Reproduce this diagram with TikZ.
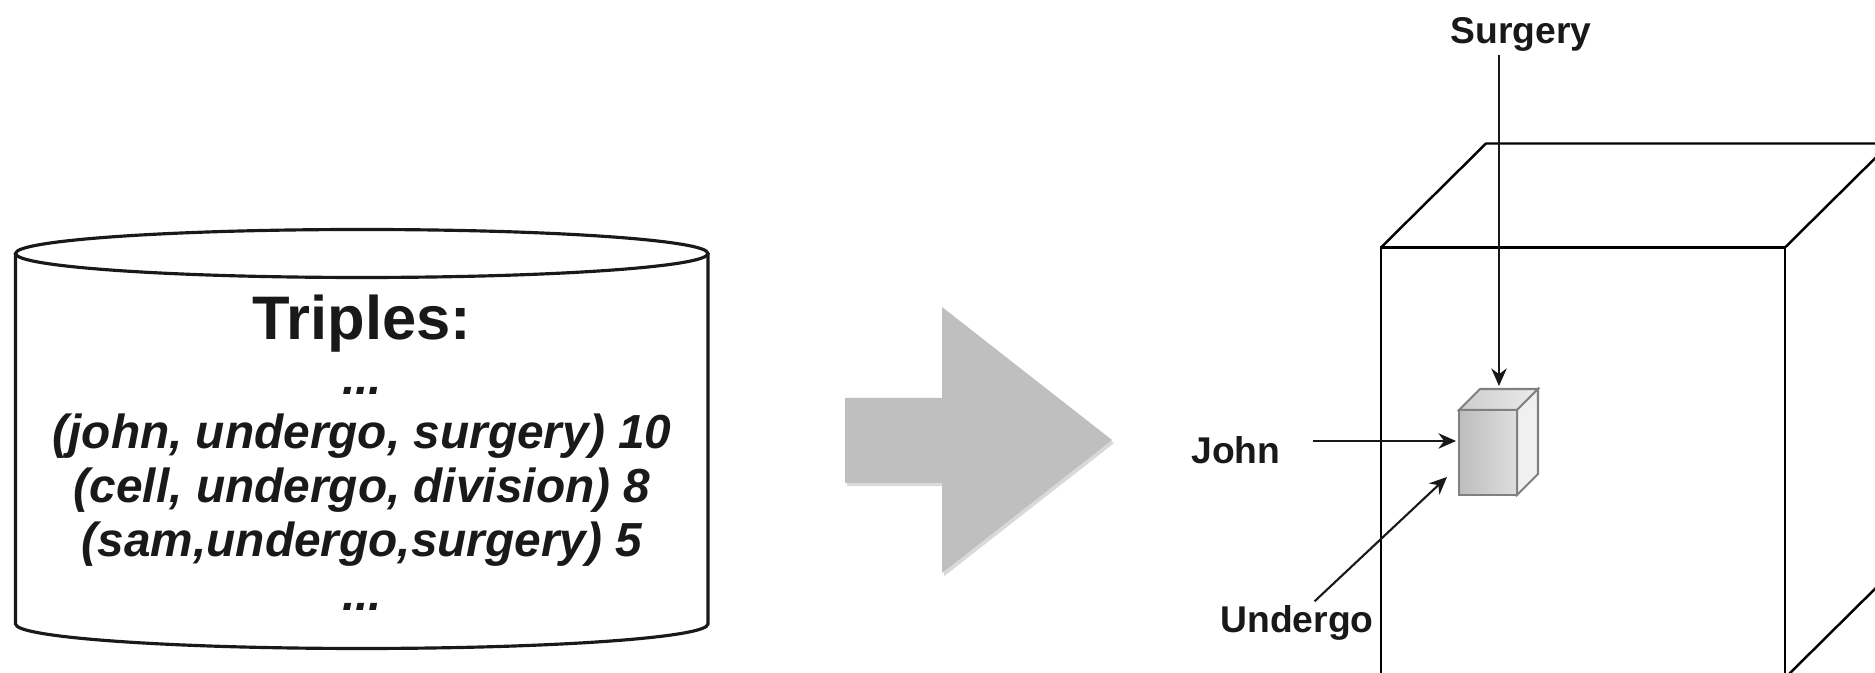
\documentclass[tikz,border=0pt]{standalone}
\usepackage{fontspec}
\setmainfont{Liberation Sans}
\usetikzlibrary{arrows.meta,calc,shadows}

\begin{document}
\begin{tikzpicture}[>={Stealth[length=5pt, width=4.4pt]},
    tag/.style={font=\fontsize{10.6}{12}\selectfont\bfseries, text=black!90, inner sep=1pt},
    pointer/.style={->, line width=0.6pt, black!90}]
    \useasboundingbox (0, 0) rectangle (18.75, 6.73);
    \clip (0, 0) rectangle (18.75, 6.73);

    % Cylinder of triples
    \draw [line width=0.9pt, black!90] (0.155, 4.195) -- (0.155, 0.49)
        arc [start angle=180, end angle=360, x radius=3.4625, y radius=0.245]
        -- (7.08, 4.195);
    \draw [line width=0.9pt, black!90] (3.6175, 4.195) ellipse [x radius=3.4625, y radius=0.24];
    \node (triples) [align=center, text=black!90, font=\fontsize{13.6}{15.4}\selectfont\bfseries\itshape] at (3.62, 2.2)
        {{\upshape\fontsize{17.5}{15.4}\selectfont Triples:}\\ ...\\ (john, undergo, surgery) 10\\ (cell, undergo, division) 8\\ (sam,undergo,surgery) 5\\ ...};

    % Conversion arrow
    \path [fill=black!25, drop shadow={shadow xshift=0.6pt, shadow yshift=-0.9pt, opacity=0.3}]
        (8.45, 2.75) -- (9.42, 2.75) -- (9.42, 3.66) -- (11.12, 2.33) -- (9.42, 1.00)
        -- (9.42, 1.90) -- (8.45, 1.90) -- cycle;

    % Vector space cube
    \draw [line width=0.7pt] (13.81, -0.05) -- (13.81, 4.255) -- (17.85, 4.255) -- (17.85, -0.05);
    \draw [line width=0.7pt] (13.81, 4.255) -- ++(1.05, 1.04) -- ++(5, 0);
    \draw [line width=0.7pt] (17.85, 4.255) -- ++(1.05, 1.04);
    \draw [line width=0.7pt] (17.85, -0.05) -- ++(1.05, 1.04);

    % Entry cell
    \draw [draw=black!50, line width=0.6pt, left color=black!20, right color=black!8]
        (14.59, 2.63) -- (14.80, 2.84) -- (15.38, 2.84) -- (15.17, 2.63) -- cycle;
    \draw [draw=black!50, line width=0.6pt, fill=black!6]
        (15.17, 1.78) -- (15.38, 1.99) -- (15.38, 2.84) -- (15.17, 2.63) -- cycle;
    \draw [draw=black!50, line width=0.6pt, left color=black!26, right color=black!13]
        (14.59, 1.78) rectangle (15.17, 2.63);
    \coordinate (stop) at (14.99, 2.87);
    \coordinate (jtip) at (14.56, 2.32);
    \coordinate (utip) at (14.47, 1.96);

    % Labels
    \node (surgery) [tag] at (15.21, 6.39) {Surgery};
    \node (john) [tag] at (12.36, 2.23) {John};
    \node (undergo) [tag] at (12.97, 0.50) {Undergo};
    \draw [pointer] (surgery.south -| stop) -- (stop);
    \draw [pointer, shorten <=8pt] (john.east |- jtip) -- (jtip);
    \draw [pointer] ([xshift=5pt]undergo.north) -- (utip);
\end{tikzpicture}
\end{document}
